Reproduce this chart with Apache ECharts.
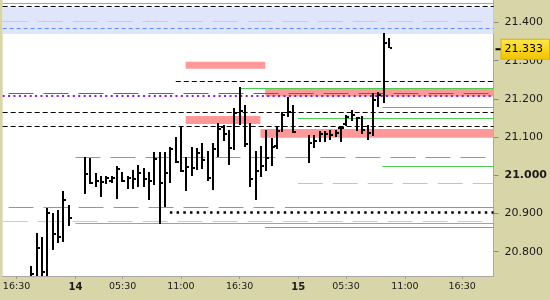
<!DOCTYPE html>
<html><head><meta charset="utf-8">
<script src="https://cdn.jsdelivr.net/npm/echarts@6/dist/echarts.min.js"></script>
<style>html,body{margin:0;padding:0;background:#d8d5a9}#c{width:550px;height:300px}</style>
</head><body><div id="c"></div>
<script>
// ---- data ----
const barSlot  = [0,1,2,3,4,5,6,7,10,11,12,13,14,15,16,17,18,19,20,21,22,23,24,25,26,27,28,29,30,31,32,33,34,35,36,37,38,39,40,41,42,43,44,45,46,47,48,49,52,53,54,55,56,57,58,59,60,61,62,63,64,65,66,67];
const barHigh  = [20.763,20.848,20.838,20.914,20.901,20.909,20.959,20.922,21.047,21.045,21.006,20.997,20.998,20.997,21.024,21.009,20.997,21.014,21.027,21.019,21.009,21.061,21.061,21.061,21.075,21.101,21.128,21.049,21.075,21.071,21.084,21.064,21.084,21.136,21.132,21.119,21.175,21.230,21.184,21.138,21.064,21.077,21.119,21.097,21.127,21.165,21.206,21.184,21.105,21.105,21.115,21.115,21.119,21.119,21.128,21.157,21.172,21.153,21.156,21.132,21.215,21.219,21.373,21.359];
const barLow   = [20.726,20.726,20.726,20.726,20.805,20.824,20.826,20.867,20.950,20.976,20.969,20.944,20.977,20.981,20.938,20.982,20.963,20.963,20.969,20.969,20.935,20.975,20.873,20.917,20.979,21.033,21.009,20.960,20.999,21.014,21.016,20.985,20.962,21.047,21.091,21.027,21.066,21.132,21.075,20.970,20.935,20.996,21.012,21.024,21.068,21.114,21.153,21.111,21.033,21.071,21.088,21.087,21.093,21.099,21.088,21.128,21.143,21.115,21.107,21.093,21.102,21.178,21.190,21.332];
const barClose = [20.742,20.809,20.746,20.901,20.846,20.838,20.935,20.888,21.003,20.980,20.985,20.982,20.992,20.993,21.016,20.985,20.993,20.990,21.007,20.990,20.986,21.042,20.979,21.005,21.070,21.036,21.011,21.021,21.019,21.059,21.040,20.992,21.068,21.120,21.108,21.071,21.164,21.169,21.082,20.990,21.012,21.024,21.045,21.075,21.116,21.158,21.166,21.114,21.084,21.090,21.108,21.108,21.105,21.111,21.124,21.153,21.157,21.149,21.119,21.110,21.197,21.210,21.346,21.333];
// open ticks only where visible in the picture (null = not drawn)
const barOpen  = [null,null,null,null,null,null,null,null,null,null,null,null,null,20.985,null,null,null,null,null,null,null,null,null,null,null,null,null,null,null,null,null,null,null,null,21.126,null,null,null,null,null,null,null,null,null,21.077,null,null,null,null,null,null,null,null,null,21.125,21.134,null,null,null,null,null,null,null,null];
const lastPrice = 21.333;

const timeTickSlot = [-2.8, 8.25, 17.1, 28, 39, 50, 58.95, 70, 80.7];
const timeTickText = ['16:30','14','05:30','11:00','16:30','15','05:30','11:00','16:30'];
const dayLabels = ['14','15'];
const priceTicks = [20.8, 20.9, 21.0, 21.1, 21.2, 21.3, 21.4];

const slotMin = -5.40, slotMax = 86.6;
const priceMin = 20.7364, priceMax = 21.4589;

// horizontal levels: value, from slot (null = left edge), to slot (null = right edge), kind
const levelValue = [21.450, 21.443, 21.403, 21.385, 21.247, 21.228, 21.215, 21.209, 21.178, 21.165, 21.149, 21.128, 21.047, 21.024, 20.979, 20.916, 20.916, 20.903, 20.880, 20.874, 20.864];
const levelFrom  = [null, null, null, null, 27.05, 38.98, -4.3, null, 65.76, null, 49.9, null, 8.24, 65.76, 49.9, -4.3, 47.5, 25.94, null, 8.24, 43.77];
const levelTo    = [null, null, null, null, null, null, null, null, null, null, null, null, null, null, null, 45.48, null, null, null, null, null];
const levelKind  = ['greyTop','blackDash','greyDash','blueShort','blackDash','green','redDash','purpleDot','green','blackDash','green','blackDash','blueDash','green','orangeDash','blueDash','blueSolid','blackDot','greyDash','greySolid','green'];

// zones: top, bottom, from, to, kind
const zoneTop    = [21.440, 21.297, 21.226, 21.155, 21.121];
const zoneBottom = [21.370, 21.279, 21.206, 21.134, 21.098];
const zoneFrom   = [null, 28.89, 43.82, 28.89, 42.9];
const zoneTo     = [null, 43.82, null, 42.9, null];
const zoneKind   = ['blue','pink','pink','pink','pink'];

// ---- styles ----
const lineKinds = {
  greyTop:   {color:'#a4a4a4', width:1, type:'solid'},
  blackDash: {color:'#000000', width:1, type:[5,3]},
  greyDash:  {color:'#cbcbcb', width:1, type:[25,10]},
  blueShort: {color:'#5a8cff', width:1, type:[4,3]},
  blueDash:  {color:'#6f9be6', width:1, type:[25,10]},
  blueSolid: {color:'#6f9be6', width:1, type:'solid'},
  redDash:   {color:'#c83c3c', width:1, type:[25,10]},
  purpleDot: {color:'#8a1ccc', width:2, type:[2,3.4]},
  green:     {color:'#4ccc4c', width:1, type:'solid'},
  orangeDash:{color:'#f5c050', width:1, type:[25,10]},
  blackDot:  {color:'#000000', width:2.5, type:[2.5,4.2]},
  greySolid: {color:'#a0a0a0', width:1, type:'solid'}
};
const zoneKinds = {blue:'#dfe6fc', pink:'#ff9999'};
const FONT = 'DejaVu Sans';

const barData = barSlot.map((s,i)=>[s, barHigh[i], barLow[i], barClose[i], barOpen[i]==null?barHigh[i]:barOpen[i], barOpen[i]==null?0:1]);

const markLines = levelValue.map((v,i)=>{
  const k = lineKinds[levelKind[i]];
  return [
    {coord:[levelFrom[i]==null?slotMin:levelFrom[i], v], lineStyle:{color:k.color, width:k.width, type:k.type}},
    {coord:[levelTo[i]==null?slotMax:levelTo[i], v]}
  ];
});
const markAreas = zoneTop.map((t,i)=>[
  {coord:[zoneFrom[i]==null?slotMin:zoneFrom[i], t], itemStyle:{color:zoneKinds[zoneKind[i]], opacity:1}},
  {coord:[zoneTo[i]==null?slotMax:zoneTo[i], zoneBottom[i]]}
]);

const chart = echarts.init(document.getElementById('c'));
chart.setOption({
  animation:false,
  backgroundColor:'#d8d5a9',
  grid:{left:0, right:51, top:0, bottom:24, show:true, backgroundColor:'#ffffff', borderWidth:0},
  xAxis:{
    type:'value', min:slotMin, max:slotMax,
    axisLine:{show:true, onZero:false, lineStyle:{color:'#a8a8a8'}},
    axisTick:{show:true, customValues:timeTickSlot, length:3, lineStyle:{color:'#9a9a9a'}},
    splitLine:{show:false},
    axisLabel:{
      customValues:timeTickSlot, margin:6, fontFamily:FONT, fontSize:9.5, color:'#1a1a1a',
      formatter:(v)=>{
        let idx = 0, best = 1e9;
        timeTickSlot.forEach((s,i)=>{const d=Math.abs(s-v); if(d<best){best=d; idx=i;}});
        const t = timeTickText[idx];
        return dayLabels.includes(t) ? '{b|'+t+'}' : t;
      },
      rich:{b:{fontFamily:FONT, fontSize:10, fontWeight:'bold', color:'#1a1a1a'}}
    }
  },
  yAxis:{
    type:'value', position:'right', min:priceMin, max:priceMax, scale:true,
    axisLine:{show:true, onZero:false, lineStyle:{color:'#a8a8a8'}},
    axisTick:{show:true, customValues:priceTicks, length:5, lineStyle:{color:'#8a8a8a'}},
    splitLine:{show:false},
    axisLabel:{
      customValues:priceTicks, margin:11, fontFamily:FONT, fontSize:11, color:'#1a1a1a',
      formatter:(v)=>{ const s=v.toFixed(3); return Math.abs(v-21.0)<1e-9 ? '{b|'+s+'}' : s; },
      rich:{b:{fontFamily:FONT, fontSize:11, fontWeight:'bold', color:'#1a1a1a'}}
    }
  },
  series:[
    {type:'line', data:[], z:1, silent:true,
     markArea:{silent:true, data:markAreas}},
    {type:'line', data:[], z:2, silent:true,
     markLine:{silent:true, symbol:['none','none'], label:{show:false}, data:markLines}},
    {type:'custom', z:5, silent:true, clip:true, data:barData,
     renderItem:(params, api)=>{
       const s = api.value(0);
       const ph = api.coord([s, api.value(1)]);
       const pl = api.coord([s, api.value(2)]);
       const pc = api.coord([s, api.value(3)]);
       const cx = Math.round(ph[0]);
       const ch = [
         {type:'rect', shape:{x:cx-1, y:Math.round(ph[1]), width:2, height:Math.max(2,Math.round(pl[1])-Math.round(ph[1]))}, style:{fill:'#000'}},
         {type:'rect', shape:{x:cx+1, y:Math.round(pc[1])-1, width:2, height:2}, style:{fill:'#000'}}
       ];
       if (api.value(5) === 1) {
         const po = api.coord([s, api.value(4)]);
         ch.push({type:'rect', shape:{x:cx-3, y:Math.round(po[1])-1, width:2, height:2}, style:{fill:'#000'}});
       }
       return {type:'group', children:ch};
     }},
    {type:'line', data:[], z:6, silent:true,
     markLine:{silent:true, symbol:['none','none'],
       lineStyle:{color:'rgba(0,0,0,0)', width:0},
       label:{show:true, position:'end', distance:2,
         formatter:()=>'{t| }{b|'+lastPrice.toFixed(3)+'}',
         rich:{
           t:{width:6, height:2, fontSize:2, lineHeight:2, backgroundColor:'#000'},
           b:{fontFamily:FONT, fontSize:11, color:'#000', lineHeight:12,
              backgroundColor:{type:'linear',x:0,y:0,x2:0,y2:1,colorStops:[{offset:0,color:'#ffe84a'},{offset:1,color:'#f2c200'}]},
              borderColor:'#d8b400', borderWidth:1, padding:[4,6,4,3]}
         }},
       data:[{yAxis:lastPrice}]}}
  ]
});
</script></body></html>
